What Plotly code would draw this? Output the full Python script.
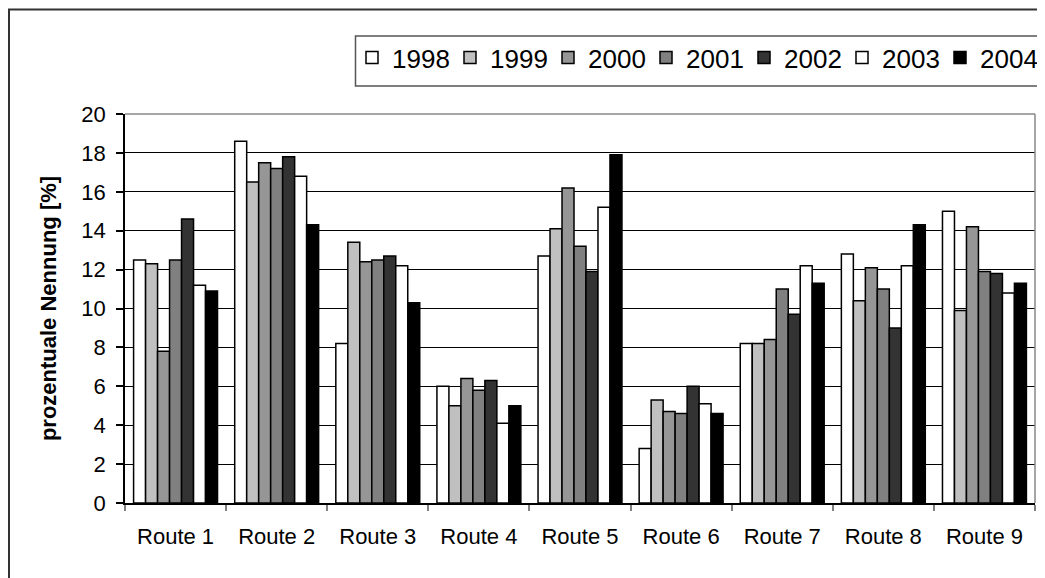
import plotly.graph_objects as go

routes = ["Route 1", "Route 2", "Route 3", "Route 4", "Route 5",
          "Route 6", "Route 7", "Route 8", "Route 9"]
years = ["1998", "1999", "2000", "2001", "2002", "2003", "2004"]

v1998 = [12.5, 18.6, 8.2, 6.0, 12.7, 2.8, 8.2, 12.8, 15.0]
v1999 = [12.3, 16.5, 13.4, 5.0, 14.1, 5.3, 8.2, 10.4, 9.9]
v2000 = [7.8, 17.5, 12.4, 6.4, 16.2, 4.7, 8.4, 12.1, 14.2]
v2001 = [12.5, 17.2, 12.5, 5.8, 13.2, 4.6, 11.0, 11.0, 11.9]
v2002 = [14.6, 17.8, 12.7, 6.3, 11.9, 6.0, 9.7, 9.0, 11.8]
v2003 = [11.2, 16.8, 12.2, 4.1, 15.2, 5.1, 12.2, 12.2, 10.8]
v2004 = [10.9, 14.3, 10.3, 5.0, 17.9, 4.6, 11.3, 14.3, 11.3]

series = [v1998, v1999, v2000, v2001, v2002, v2003, v2004]
colors = ["#FFFFFF", "#C0C0C0", "#969696", "#808080", "#333333", "#FFFFFF", "#000000"]

FONT = "Liberation Sans, Arial, sans-serif"

W, H = 1045, 578
OFF = 8  # page body margin
L, R, T, B = 117, 18, 106, 83
PW = W - L - R
PH = H - T - B


def px_x(p):
    return (p - OFF - L) / PW


def px_y(p):
    return (H - B - (p - OFF)) / PH


fig = go.Figure()
for name, vals, col in zip(years, series, colors):
    fig.add_trace(go.Bar(
        x=routes, y=vals, name=name,
        marker=dict(color=col, line=dict(color="#000000", width=1.5)),
    ))

shapes = [
    # outer frame
    dict(type="rect", xref="paper", yref="paper",
         x0=px_x(9), x1=px_x(1080), y0=px_y(620), y1=px_y(9.5),
         line=dict(color="#333333", width=2), fillcolor="rgba(0,0,0,0)", layer="below"),
    # legend frame
    dict(type="rect", xref="paper", yref="paper",
         x0=px_x(355.5), x1=px_x(1080), y0=px_y(86), y1=px_y(36),
         line=dict(color="#555555", width=1.5), fillcolor="rgba(0,0,0,0)", layer="below"),
    # plot area top and right border
    dict(type="line", xref="paper", yref="paper", x0=0, x1=1, y0=1, y1=1,
         line=dict(color="#888888", width=1.5)),
    dict(type="line", xref="paper", yref="paper", x0=1, x1=1, y0=0, y1=1,
         line=dict(color="#888888", width=1.5)),
]

fig.update_layout(
    width=W, height=H,
    margin=dict(l=L, r=R, t=T, b=B, autoexpand=False),
    paper_bgcolor="white", plot_bgcolor="white",
    font=dict(family=FONT, color="#000000", size=22),
    barmode="group", bargap=0.17, bargroupgap=0,
    showlegend=True,
    legend=dict(orientation="h", x=px_x(352), xanchor="left",
                y=px_y(57.5), yanchor="middle",
                font=dict(size=26, family=FONT, color="#000000"),
                bgcolor="rgba(0,0,0,0)", borderwidth=0,
                entrywidth=53, entrywidthmode="pixels",
                traceorder="normal"),
    shapes=shapes,
    xaxis=dict(
        type="category", tickson="boundaries",
        ticks="outside", ticklen=6, tickcolor="#808080", tickwidth=1.5,
        showline=True, linecolor="#000000", linewidth=1.5,
        showgrid=False, tickfont=dict(size=22),
        ticklabelstandoff=13,
        fixedrange=True,
    ),
    yaxis=dict(
        range=[0, 20], tickmode="linear", tick0=0, dtick=2,
        ticks="outside", ticklen=7, tickcolor="#000000", tickwidth=1.5,
        showline=True, linecolor="#000000", linewidth=1.5,
        showgrid=True, gridcolor="#000000", gridwidth=1,
        zeroline=False,
        tickfont=dict(size=22),
        ticklabelstandoff=6,
        title=dict(text="<b>prozentuale Nennung [%]</b>", font=dict(size=22), standoff=19),
        fixedrange=True,
    ),
)

fig.write_html("out.html", config={"displayModeBar": False})
